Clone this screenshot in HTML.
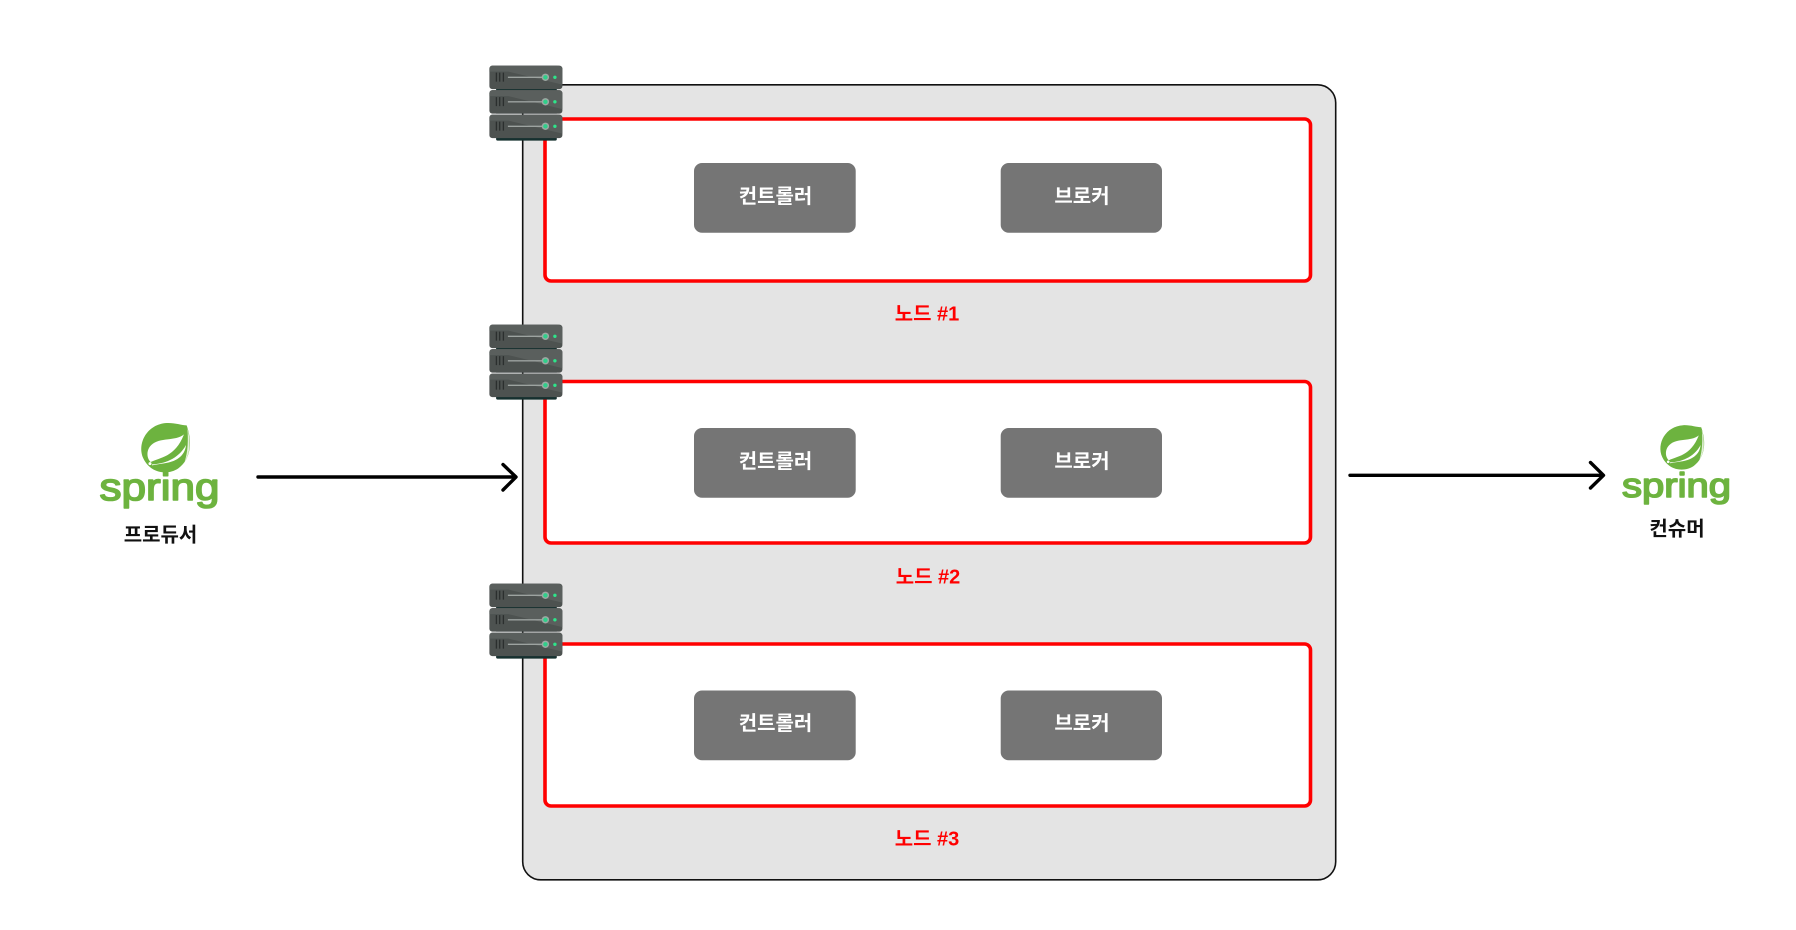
<!DOCTYPE html>
<html lang="ko">
<head>
<meta charset="utf-8">
<style>
html,body{margin:0;padding:0;background:#fff;width:1796px;height:930px;overflow:hidden}
svg{display:block}
text{font-family:"Liberation Sans","Noto Sans CJK KR",sans-serif;font-weight:700;text-anchor:middle}
.w{fill:#fff;font-size:20px}
.r{fill:#f00;font-size:20px}
.k{fill:#111;font-size:20px}
.sp{fill:#6db33f;stroke:#6db33f;stroke-width:1.600;stroke-linejoin:round;font-weight:400;text-anchor:start}
</style>
</head>
<body>
<svg width="1796" height="930" viewBox="0 0 1796 930" xmlns="http://www.w3.org/2000/svg">
<defs>
<g id="unit">
  <rect x="0" y="0" width="73" height="23.5" rx="3" fill="#4d5250"/>
  <path d="M0 3a3 3 0 0 1 3-3H67a6 3 0 0 1 6 3V19L19 6H0z" fill="#5a5f5d"/>
  <path d="M7 7v9M10.300 7v9M14 7v9" stroke="#2b2f2e" stroke-width="1.300" fill="none"/>
  <path d="M18.500 11.700H56" stroke="#9da3a0" stroke-width="1.300" fill="none"/>
  <circle cx="56" cy="11.700" r="3.700" fill="#9da8a3"/>
  <circle cx="56" cy="11.700" r="2.200" fill="#2fd08a"/>
  <circle cx="65.500" cy="11.700" r="1.700" fill="#2ee58a"/>
</g>
<g id="server">
  <rect x="6.700" y="22" width="60.700" height="3" fill="#16302f"/>
  <rect x="6.700" y="45" width="60.700" height="3" fill="#16302f"/>
  <rect x="6.700" y="69" width="60.700" height="6" rx="1.500" fill="#16302f"/>
  <use href="#unit" y="0"/>
  <use href="#unit" y="24.500"/>
  <use href="#unit" y="49"/>
</g>
<g id="leaf">
  <path d="M380 76C396 120 396 175 355 205C320 228 270 218 250 175C230 130 262 72 320 69C345 68 365 76 380 76Z" fill="#6db33f"/>
  <path d="M372 103C345 125 300 110 274 135C258 150 260 175 272 186C300 172 345 172 372 103Z" fill="#fff"/>
  <path d="M276 193C310 192 355 178 378 135C375 170 345 186 312 190C298 192 286 194 276 196Z" fill="#fff"/>
  <path d="M382 84C392 120 392 160 374 185C384 155 385 118 382 84Z" fill="#fff" opacity=".8"/>
  <circle cx="270" cy="191" r="4.500" fill="#fff"/>
</g>
<g id="btns">
  <rect x="694" y="0" width="161.700" height="69.700" rx="8" fill="#757575"/>
  <rect x="1000.700" y="0" width="161.300" height="69.700" rx="8" fill="#757575"/>
</g>
</defs>

<rect x="522.700" y="84.800" width="813" height="795" rx="18" fill="#e4e4e4" stroke="#111" stroke-width="1.600"/>

<rect x="545" y="119" width="765.500" height="162" rx="6" fill="#fff" stroke="#f00" stroke-width="3.600"/>
<rect x="545" y="381.500" width="765.500" height="161.500" rx="6" fill="#fff" stroke="#f00" stroke-width="3.600"/>
<rect x="545" y="644" width="765.500" height="162" rx="6" fill="#fff" stroke="#f00" stroke-width="3.600"/>

<use href="#btns" y="163"/>
<use href="#btns" y="428"/>
<use href="#btns" y="690.500"/>

<text class="w" x="775.500" y="203">컨트롤러</text>
<text class="w" x="1082" y="203">브로커</text>
<text class="w" x="775.500" y="468">컨트롤러</text>
<text class="w" x="1082" y="468">브로커</text>
<text class="w" x="775.500" y="730">컨트롤러</text>
<text class="w" x="1082" y="730">브로커</text>

<text class="r" x="927" y="320.500">노드 #1</text>
<text class="r" x="928" y="583.500">노드 #2</text>
<text class="r" x="927" y="845.500">노드 #3</text>

<use href="#server" x="489.400" y="65.600"/>
<use href="#server" x="489.400" y="324.600"/>
<use href="#server" x="489.400" y="583.600"/>

<path d="M258 477H515M503 464.500L516 477L503 490" fill="none" stroke="#000" stroke-width="3.400" stroke-linecap="round" stroke-linejoin="round"/>
<path d="M1350 475.300H1603M1590.500 462.500L1603.500 475.300L1590.500 488" fill="none" stroke="#000" stroke-width="3.400" stroke-linecap="round" stroke-linejoin="round"/>

<text class="sp" x="99.500" y="500" textLength="120" lengthAdjust="spacingAndGlyphs" style="font-size:38px">spring</text>
<use href="#leaf" transform="translate(60 400) scale(.3333)"/>
<text class="k" x="160.500" y="541.500">프로듀서</text>

<text class="sp" x="1622" y="497" textLength="109" lengthAdjust="spacingAndGlyphs" style="font-size:34px">spring</text>
<use href="#leaf" transform="translate(1587.200 404.500) scale(.3)"/>
<text class="k" x="1677" y="535.500">컨슈머</text>
</svg>
</body>
</html>
